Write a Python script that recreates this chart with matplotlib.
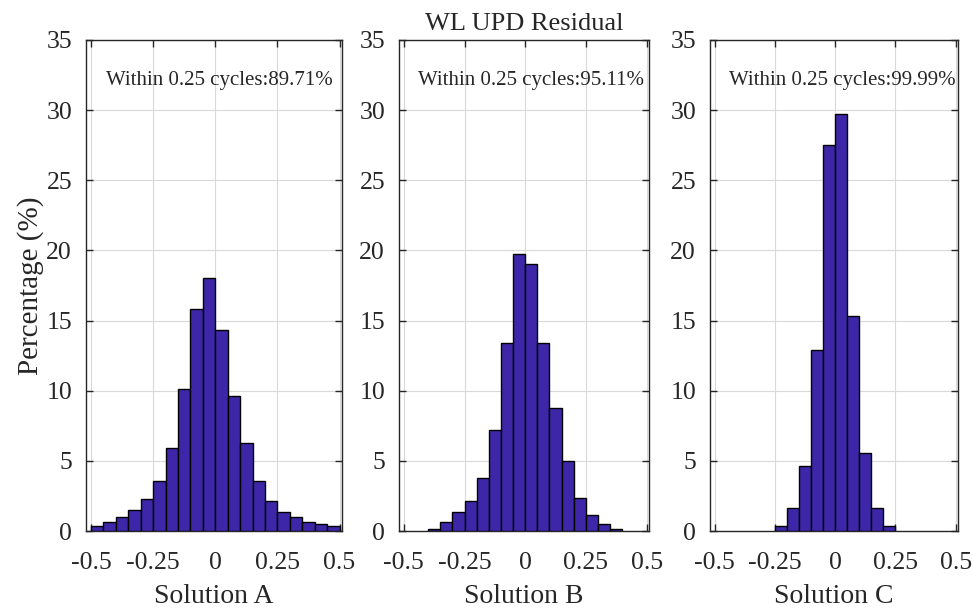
import numpy as np
import matplotlib
matplotlib.use("Agg")
import matplotlib.pyplot as plt

plt.rcParams['font.family'] = ['Liberation Serif', 'DejaVu Serif']
plt.rcParams['axes.unicode_minus'] = False

# ---- data ----
panel_labels = ["Solution A", "Solution B", "Solution C"]
annotations = ["Within 0.25 cycles:89.71%", "Within 0.25 cycles:95.11%", "Within 0.25 cycles:99.99%"]
bin_width = 0.05
bin_start_A = -0.5
bin_start_B = -0.4
bin_start_C = -0.25
heights_A = [0.35, 0.67, 1.0, 1.48, 2.29, 3.57, 5.9, 10.1, 15.8, 18.0,
             14.3, 9.64, 6.24, 3.55, 2.17, 1.36, 1.0, 0.67, 0.52, 0.33]
heights_B = [0.17, 0.67, 1.36, 2.14, 3.79, 7.19, 13.38, 19.76, 19.0, 13.38,
             8.74, 4.98, 2.38, 1.12, 0.52, 0.17]
heights_C = [0.35, 1.63, 4.63, 12.9, 27.55, 29.75, 15.35, 5.55, 1.63, 0.35]
x_ticks = [-0.5, -0.25, 0, 0.25, 0.5]
x_tick_labels = ["-0.5", "-0.25", "0", "0.25", "0.5"]
y_ticks = [0, 5, 10, 15, 20, 25, 30, 35]
title = "WL UPD Residual"
y_label = "Percentage (%)"

bar_color = "#3E26A8"
text_color = "#262626"

W, H = 973, 609
fig = plt.figure(figsize=(W / 100, H / 100), dpi=100)

boxes = [(86, 342), (399, 649), (710, 958)]
top, bottom = 40, 531

starts = [bin_start_A, bin_start_B, bin_start_C]
heights = [heights_A, heights_B, heights_C]

axes = []
for i, (l, r) in enumerate(boxes):
    ax = fig.add_axes([l / W, 1 - bottom / H, (r - l) / W, (bottom - top) / H])
    h = np.array(heights[i])
    lefts = starts[i] + bin_width * np.arange(len(h))
    ax.bar(lefts, h, width=bin_width, align='edge', color=bar_color,
           edgecolor='black', linewidth=1.0, zorder=3)
    ax.set_xlim(-0.52, 0.51)
    ax.set_ylim(0, 35)
    ax.set_xticks(x_ticks)
    ax.set_xticklabels(x_tick_labels)
    ax.set_yticks(y_ticks)
    ax.grid(True, color='#d9d9d9', linewidth=0.8, zorder=0)
    ax.tick_params(direction='in', top=True, right=True, labelsize=18.5,
                   length=5, width=1.0, colors=text_color)
    ax.tick_params(axis='x', pad=15)
    ax.tick_params(axis='y', pad=10)
    for s in ax.spines.values():
        s.set_linewidth(1.0)
        s.set_color(text_color)
    ax.set_xlabel(panel_labels[i], fontsize=20, labelpad=7, color=text_color)
    ax.text(-0.44, 32.1, annotations[i], fontsize=15, ha='left', va='center',
            color=text_color, zorder=4)
    axes.append(ax)

axes[0].set_ylabel(y_label, fontsize=21, labelpad=2, color=text_color)
axes[1].set_title(title, fontsize=19, pad=7.5, color=text_color)

fig.savefig("out.png", dpi=100)
